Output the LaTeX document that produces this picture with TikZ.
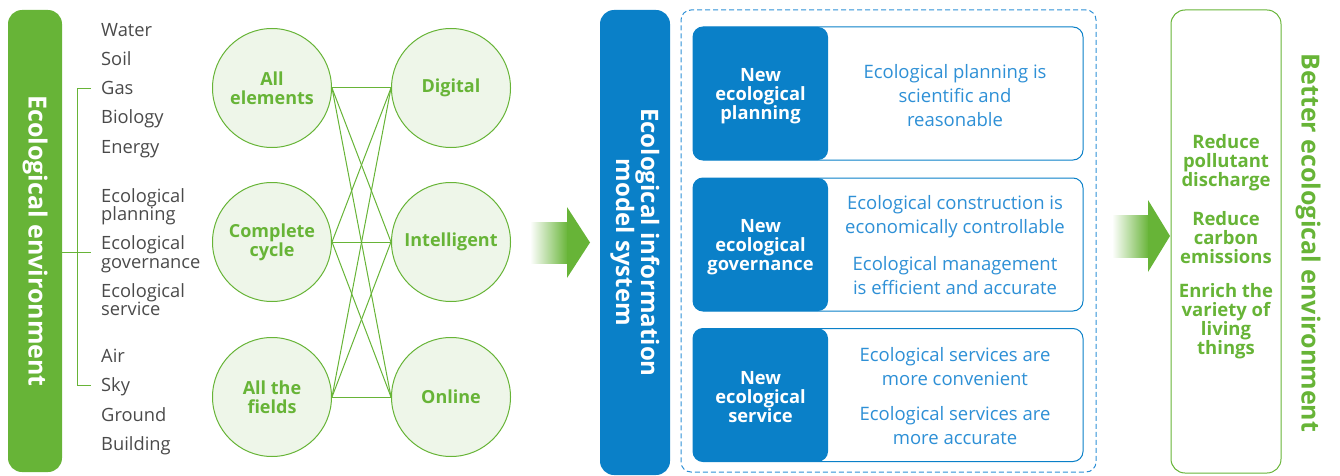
\documentclass[tikz,border=0pt]{standalone}
\usepackage{fontspec}
\setmainfont{Open Sans}
\definecolor{eg}{HTML}{67B437}
\definecolor{egl}{HTML}{EEF6E9}
\definecolor{eb}{HTML}{0A80C8}
\definecolor{ebl}{HTML}{2E90D6}
\definecolor{gtxt}{HTML}{4A4A4A}
\tikzset{
  listtxt/.style={anchor=base west, inner sep=0pt, text=gtxt, font=\fontsize{18.3}{19}\selectfont},
  circ/.style={circle, draw=eg, fill=egl, line width=1pt, minimum size=119pt, inner sep=0pt, align=center, text=eg, font=\bfseries\fontsize{18}{19}\selectfont},
  link/.style={draw=eg, line width=1pt},
  vbar/.style={rotate=-90, rounded corners=14pt, inner sep=0pt, align=center, text=white, font=\bfseries\fontsize{24}{21}\selectfont},
  rowbox/.style={draw=eb, line width=1pt, fill=white, rounded corners=10pt, minimum width=390pt, minimum height=133pt, inner sep=0pt},
  rowhead/.style={fill=eb, rounded corners=10pt, minimum width=135pt, minimum height=133pt, inner sep=0pt},
  headtxt/.style={align=center, inner sep=0pt, text=white, font=\bfseries\fontsize{18.3}{19}\selectfont},
  rowtxt/.style={align=center, inner sep=0pt, text=ebl, font=\fontsize{18.5}{24}\selectfont},
  goodtxt/.style={align=center, inner sep=0pt, text=eg, font=\bfseries\fontsize{18.5}{19}\selectfont},
  brk/.style={draw=eg, line width=1pt},
}
\begin{document}
\begin{tikzpicture}[x=1pt,y=-1pt]
\useasboundingbox (0,0) rectangle (1340,476);
% left bar
\node[vbar, fill=eg, minimum width=462pt, minimum height=54pt, font=\bfseries\fontsize{25}{21}\selectfont] (env) at (35,241) {Ecological environment};
% list
\node[listtxt] (water) at (101,37) {Water};
\node[listtxt] (soil) at (101,66) {Soil};
\node[listtxt] (gas) at (101,95) {Gas};
\node[listtxt] (bio) at (101,124) {Biology};
\node[listtxt] (energy) at (101,153) {Energy};
\node[listtxt] (epa) at (101,202) {Ecological};
\node[listtxt] (epb) at (101,220) {planning};
\node[listtxt] (ega) at (101,249) {Ecological};
\node[listtxt] (egb) at (101,268) {governance};
\node[listtxt] (esa) at (101,297) {Ecological};
\node[listtxt] (esb) at (101,315) {service};
\node[listtxt] (air) at (101,362) {Air};
\node[listtxt] (sky) at (101,391) {Sky};
\node[listtxt] (ground) at (101,421) {Ground};
\node[listtxt] (building) at (101,450) {Building};
% bracket
\coordinate (bt) at (77,89);
\coordinate (bb) at (77,385);
\coordinate (be) at (62,252);
\draw[brk] (91,89) -- (bt) -- (bb) -- (91,385);
\draw[brk] (be) -- (91,252);
% circles
\node[circ] (L1) at (272,88) {All\\elements};
\node[circ] (L2) at (272,242) {Complete\\cycle};
\node[circ] (L3) at (272,397) {All the\\fields};
\node[circ] (R1) at (451,88) {Digital};
\node[circ] (R2) at (451,242) {Intelligent};
\node[circ] (R3) at (451,397) {Online};
\foreach \a in {1,2,3}{\foreach \b in {1,2,3}{\draw[link] (L\a.east) -- (R\b.west);}}
% arrow 1
\shade[left color=white, right color=eg] (530,222) rectangle (568,263);
\fill[eg] (567,207) -- (590,242.5) -- (567,278) -- cycle;
% blue bar
\node[vbar, fill=eb, minimum width=465pt, minimum height=70pt] (model) at (635,242.5) {Ecological information\\model system};
% dashed box
\node[draw=ebl, dash pattern=on 5pt off 3pt, line width=1pt, rounded corners=10pt, minimum width=415pt, minimum height=462pt, inner sep=0pt] (dash) at (888.5,241) {};
% rows
\node[rowbox] (row1) at (888,93.5) {};
\node[rowbox] (row2) at (888,244.5) {};
\node[rowbox] (row3) at (888,395) {};
\node[rowhead] (h1) at (760.5,93.5) {};
\node[rowhead] (h2) at (760.5,244.5) {};
\node[rowhead] (h3) at (760.5,395) {};
\node[headtxt] (h1t) at (760.5,96) {New\\ecological\\planning};
\node[headtxt] (h2t) at (760.5,247) {New\\ecological\\governance};
\node[headtxt] (h3t) at (760.5,397.5) {New\\ecological\\service};
\node[rowtxt] (t1) at (955,96) {Ecological planning is\\scientific and\\reasonable};
\node[rowtxt] (t2a) at (955,217) {Ecological construction is\\economically controllable};
\node[rowtxt] (t2b) at (955,276) {Ecological management\\is efficient and accurate};
\node[rowtxt] (t3a) at (955,367) {Ecological services are\\more convenient};
\node[rowtxt] (t3b) at (955,426) {Ecological services are\\more accurate};
% arrow 2
\shade[left color=white, right color=eg] (1112,215) rectangle (1149,257);
\fill[eg] (1148,200) -- (1170,236) -- (1148,272) -- cycle;
% green box
\node[draw=eg, line width=1pt, rounded corners=14pt, minimum width=110pt, minimum height=463pt, inner sep=0pt] (better) at (1226,241.5) {};
\node[goodtxt] (g1) at (1226,163) {Reduce\\pollutant\\discharge};
\node[goodtxt] (g2) at (1226,238) {Reduce\\carbon\\emissions};
\node[goodtxt] (g3) at (1226,321.5) {Enrich the\\variety of\\living\\things};
\node[rotate=-90, inner sep=0pt, text=eg, font=\bfseries\fontsize{25}{23}\selectfont] (bettxt) at (1308,243) {Better ecological environment};
\end{tikzpicture}
\end{document}
